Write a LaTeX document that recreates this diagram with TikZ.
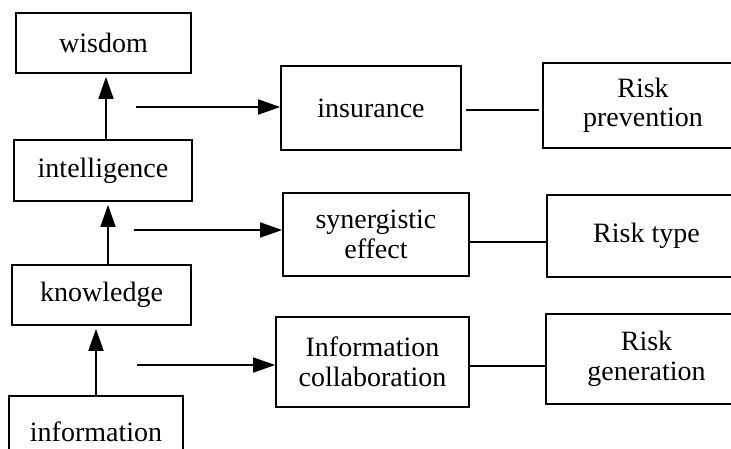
\documentclass[tikz,border=0pt]{standalone}
\usepackage{fontspec}
\setmainfont{Liberation Serif}
\usetikzlibrary{arrows.meta}
\begin{document}
\begin{tikzpicture}[x=1pt,y=-1pt,
  box/.style={draw,line width=1.7pt,inner sep=0pt,align=center,font=\fontsize{28}{29.5}\selectfont},
  link/.style={line width=1.7pt},
  arr/.style={line width=1.7pt,-{Triangle[length=22pt,width=15pt]}}]
\useasboundingbox (0,0) rectangle (731,448);
\fill[white] (0,0) rectangle (731,448);
\clip (0,0) rectangle (731,448);
% left column
\node[box,minimum width=175pt,minimum height=60pt] (wis) at (103.5,43) {wisdom};
\node[box,minimum width=178pt,minimum height=61pt] (int) at (103,170.5) {intelligence};
\node[box,minimum width=179pt,minimum height=60pt] (kno) at (101.5,295) {knowledge};
\node[box,minimum width=174pt,minimum height=72pt] (inf) at (96,432) {information};
% middle column
\node[box,minimum width=180pt,minimum height=84pt] (ins) at (371,108) {insurance};
\node[box,minimum width=186pt,minimum height=83pt] (syn) at (376,234.5) {synergistic\\effect};
\node[box,minimum width=193pt,minimum height=90pt] (col) at (372.5,362) {Information\\collaboration};
% right column
\node[box,minimum width=200pt,minimum height=85pt] (rp) at (643,105.5) {Risk\\prevention};
\node[box,minimum width=199pt,minimum height=82pt] (rt) at (646.5,236) {Risk type};
\node[box,minimum width=201pt,minimum height=90pt] (rg) at (646.5,359) {Risk\\generation};
% vertical arrows
\draw[arr,shorten >=3pt] (int.north -| 106,0) -- (wis.south -| 106,0);
\draw[arr,shorten >=3pt] (kno.north -| 108,0) -- (int.south -| 108,0);
\draw[arr,shorten >=3pt] (inf.north -| 96,0) -- (kno.south -| 96,0);
% horizontal arrows
\coordinate (a1) at (136,107);
\coordinate (a2) at (134,230);
\coordinate (a3) at (137,365);
\draw[arr] (a1) -- (a1 -| ins.west);
\draw[arr] (a2) -- (a2 -| syn.west);
\draw[arr] (a3) -- (a3 -| col.west);
% links
\coordinate (l1) at (0,110);
\coordinate (l2) at (0,242);
\coordinate (l3) at (0,366);
\draw[link,shorten <=4pt,shorten >=3pt] (l1 -| ins.east) -- (l1 -| rp.west);
\draw[link] (l2 -| syn.east) -- (l2 -| rt.west);
\draw[link] (l3 -| col.east) -- (l3 -| rg.west);
\end{tikzpicture}
\end{document}
